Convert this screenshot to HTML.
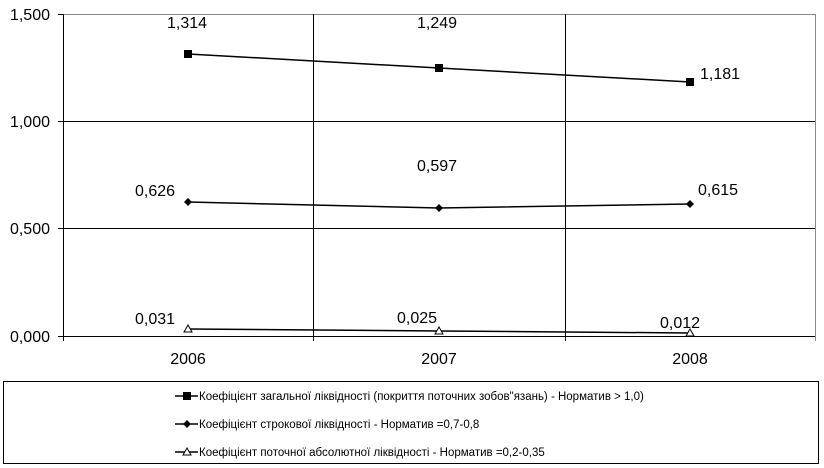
<!DOCTYPE html>
<html><head><meta charset="utf-8"><style>body{margin:0;background:#fff}svg{display:block}</style></head><body>
<svg width="824" height="468" xmlns="http://www.w3.org/2000/svg" font-family="Liberation Sans, sans-serif">
<rect width="824" height="468" fill="#fff"/>
<g stroke="#000" stroke-width="1">
<line x1="63" y1="14.5" x2="815" y2="14.5" stroke="#888"/>
<line x1="63" y1="121.5" x2="815" y2="121.5"/>
<line x1="63" y1="228.5" x2="815" y2="228.5"/>
<line x1="313.5" y1="14" x2="313.5" y2="341"/>
<line x1="565.5" y1="14" x2="565.5" y2="341"/>
<line x1="815.5" y1="14" x2="815.5" y2="341" stroke="#888"/>
<line x1="63.5" y1="14" x2="63.5" y2="341"/>
<line x1="58" y1="336.5" x2="815" y2="336.5"/>
<line x1="58" y1="14.5" x2="63" y2="14.5"/>
<line x1="58" y1="121.5" x2="63" y2="121.5"/>
<line x1="58" y1="228.5" x2="63" y2="228.5"/>
</g>
<g font-size="16" fill="#000" text-anchor="end">
<text x="50" y="20">1,500</text><text x="50" y="127">1,000</text><text x="50" y="234">0,500</text><text x="50" y="342">0,000</text>
</g>
<g font-size="16" text-anchor="middle">
<text x="188" y="364">2006</text><text x="439" y="364">2007</text><text x="690" y="364">2008</text>
</g>
<g stroke="#000" stroke-width="1.5" fill="none">
<polyline points="188,54 439,68 690,82"/>
<polyline points="188,202 439,208 690,204"/>
<polyline points="188,329 439,331 690,333"/>
</g>
<g fill="#000">
<rect x="184" y="50" width="8" height="8"/><rect x="435" y="64" width="8" height="8"/><rect x="686" y="78" width="8" height="8"/>
<path d="M188 198l4 4-4 4-4-4z"/><path d="M439 204l4 4-4 4-4-4z"/><path d="M690 200l4 4-4 4-4-4z"/>
</g>
<g fill="#fff" stroke="#000">
<path d="M188 325l4 7h-8z"/><path d="M439 327l4 7h-8z"/><path d="M690 329l4 7h-8z"/>
</g>
<g font-size="16" text-anchor="middle">
<text x="187" y="28">1,314</text><text x="437" y="28">1,249</text><text x="720" y="79">1,181</text>
<text x="155" y="196">0,626</text><text x="437" y="171">0,597</text><text x="718" y="195">0,615</text>
<text x="155" y="324">0,031</text><text x="417" y="323">0,025</text><text x="680" y="328">0,012</text>
</g>
<rect x="3.5" y="381.5" width="815" height="82" fill="none" stroke="#000"/>
<g stroke="#000" stroke-width="1.5"><line x1="175" y1="396" x2="198" y2="396"/><line x1="175" y1="424" x2="198" y2="424"/><line x1="175" y1="452" x2="198" y2="452"/></g>
<rect x="183" y="392" width="8" height="8"/>
<path d="M187 420l4 4-4 4-4-4z"/>
<path d="M187 448l4 7h-8z" fill="#fff" stroke="#000"/>
<g font-size="11.5">
<text x="199" y="400">Коефіцієнт загальної ліквідності (покриття поточних зобов"язань) - Норматив &gt; 1,0)</text>
<text x="199" y="428">Коефіцієнт строкової ліквідності - Норматив =0,7-0,8</text>
<text x="199" y="456">Коефіцієнт поточної абсолютної ліквідності - Норматив =0,2-0,35</text>
</g>
</svg>
</body></html>
